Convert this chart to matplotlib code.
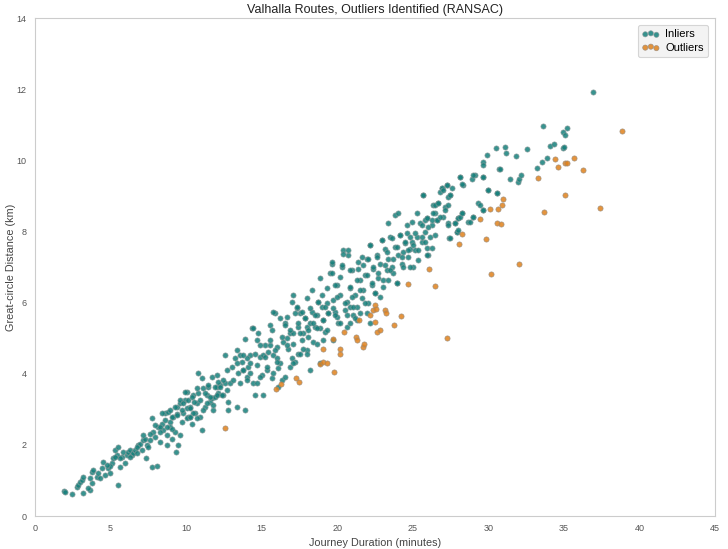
import matplotlib
matplotlib.use("Agg")
import matplotlib.pyplot as plt

# Inlier points (journey minutes, great-circle km)
inlier_x = [
    1.92, 1.99, 2.43, 3.2, 2.76, 2.87, 2.98, 3.09, 3.2, 3.64, 3.53, 3.75, 3.64, 3.75, 3.86, 4.08, 4.19, 4.3,
    4.41, 4.52, 4.63, 4.85, 4.96, 5.07, 5.18, 5.4, 5.51, 5.63, 5.29, 5.51, 5.74, 5.85, 6.07, 6.18, 6.29, 6.4,
    6.51, 6.62, 6.73, 6.84, 6.95, 7.06, 7.17, 7.28, 7.35, 7.39, 7.5, 7.61, 7.72, 7.83, 7.94, 8.05, 8.16, 8.27,
    8.38, 8.49, 8.6, 8.71, 8.76, 8.82, 8.93, 9.04, 9.15, 9.27, 9.33, 9.38, 9.49, 9.6, 9.71, 9.82, 9.93, 10.04,
    10.15, 10.26, 10.37, 10.48, 10.59, 10.7, 10.81, 10.92, 11.03, 11.14, 11.25, 11.36, 11.47, 11.58, 11.69,
    11.8, 11.91, 12.02, 12.13, 12.24, 12.46, 12.57, 12.8, 9.4, 9.6, 10.04, 10.26, 10.7, 8.93, 9.04, 8.27,
    7.61, 7.17, 6.73, 6.29, 5.96, 5.63, 5.29, 4.96, 4.74,
    7.72, 7.94, 8.27, 8.38, 8.6, 8.71, 8.93, 9.05, 9.27, 9.38, 9.6, 9.71, 9.82, 9.93, 10.04, 10.15, 10.26,
    10.37, 10.48, 10.7, 10.81, 10.92, 11.03, 11.14, 11.25, 11.36, 11.47, 11.58, 11.69, 11.8, 11.91, 12.02,
    12.13, 12.24, 12.35, 12.46, 12.57, 12.68, 12.8, 12.91, 13.02, 13.13, 13.24, 13.35, 13.39, 13.46, 13.57,
    13.68, 13.79, 13.9, 14.01, 14.12, 14.23, 14.34, 14.45, 14.56, 14.67, 14.78, 14.89, 15.0, 15.11, 15.22,
    15.33, 15.44, 15.55, 15.66, 15.77, 15.88, 15.99, 16.1, 16.21, 16.32, 16.43, 16.54, 16.66, 16.77, 16.88,
    16.99, 17.1, 17.21, 17.32, 17.43, 17.54, 17.65, 17.76, 17.87, 17.98, 18.09, 18.2, 18.31, 18.42, 18.53,
    18.64, 18.75, 18.86, 18.97, 19.08, 19.19, 19.3, 19.41, 14.67, 15.11, 13.35, 12.68, 12.02, 10.5, 10.26,
    13.57, 14.01, 15.55, 15.99, 16.66, 17.1, 17.98, 17.43,
    13.9, 14.45, 13.79, 14.23, 14.56, 14.89, 15.22, 15.55, 15.77, 15.66, 15.88, 15.99, 16.21, 16.32, 16.55,
    16.66, 16.88, 16.99, 17.1, 17.21, 17.32, 17.43, 17.54, 17.65, 17.76, 17.87, 17.98, 18.09, 18.2, 18.31,
    18.42, 18.53, 18.64, 18.75, 18.86, 18.97, 19.08, 19.19, 19.3, 19.41, 19.52, 19.63, 19.74, 19.85, 19.96,
    20.07, 20.18, 20.3, 20.41, 20.52, 20.63, 20.74, 20.85, 20.96, 21.07, 21.18, 21.29, 21.4, 21.51, 21.62,
    21.73, 21.84, 21.95, 22.06, 22.17, 22.28, 22.39, 22.5, 22.61, 22.72, 22.83, 22.94, 23.05, 23.16, 23.27,
    23.38, 23.49, 23.6, 23.71, 23.83, 23.94, 24.05, 24.16, 24.27, 24.38, 24.49, 24.6, 24.71, 24.82, 24.93,
    25.04, 25.15, 25.26, 25.37, 14.89, 14.01, 14.67, 15.77, 16.55, 16.1, 14.23, 13.79, 15.33, 16.88, 17.98,
    18.64, 19.3, 19.96, 20.63, 21.29, 20.85, 19.74, 19.08, 17.54, 17.1, 18.2, 18.86,
    19.63, 19.63, 19.85, 19.96, 19.74, 19.85, 20.19, 20.3, 20.41, 20.52, 20.74, 20.85, 20.85, 20.96, 21.07,
    21.18, 21.29, 21.4, 21.51, 21.62, 21.73, 21.84, 21.95, 22.06, 22.17, 22.28, 22.39, 22.5, 22.61, 22.72,
    22.94, 23.05, 23.16, 23.27, 23.39, 23.49, 23.61, 23.72, 23.83, 23.94, 24.05, 24.16, 24.27, 24.38, 24.49,
    24.6, 24.71, 24.82, 24.93, 25.04, 25.15, 25.26, 25.37, 25.48, 25.59, 25.7, 25.81, 25.92, 26.03, 26.14,
    26.25, 26.36, 26.47, 26.58, 26.69, 26.8, 26.91, 27.02, 27.13, 27.24, 27.36, 27.42, 27.47, 27.8, 27.91,
    28.02, 28.13, 28.24, 28.3, 28.68, 29.01, 29.12, 29.34, 29.67, 29.67, 30.0, 30.55, 24.82, 23.94, 23.39,
    22.83, 21.95, 22.17, 20.85, 20.19, 21.51, 20.63,
    25.7, 25.59, 25.81, 25.92, 26.03, 25.59, 25.81, 25.92, 26.25, 25.92, 26.47, 26.25, 26.36, 26.47, 26.69,
    26.58, 26.8, 26.91, 27.02, 27.13, 27.24, 27.36, 27.36, 27.47, 27.58, 27.47, 27.36, 27.8, 27.91, 28.02,
    28.02, 28.13, 28.24, 28.24, 28.13, 28.9, 29.01, 28.79, 29.01, 29.45, 29.67, 29.67, 29.67, 29.67, 30.0,
    29.89, 30.55, 30.51, 30.73, 31.11, 31.17, 31.44, 31.83, 31.99, 32.05, 32.14, 32.58, 33.25, 33.53, 33.86,
    33.64, 34.08, 34.35, 34.92, 35.01, 34.97, 35.08, 35.23, 36.95, 30.77,
]
inlier_y = [
    0.71, 0.68, 0.62, 0.64, 0.82, 0.87, 0.97, 1.01, 1.11, 0.73, 0.78, 0.92, 1.06, 1.25, 1.29, 1.11, 1.2, 1.06,
    1.34, 1.53, 1.15, 1.34, 1.2, 1.48, 1.62, 1.71, 0.87, 1.37, 1.86, 1.95, 1.67, 1.81, 1.71, 1.81, 1.86, 1.71,
    1.78, 1.86, 1.76, 2.0, 2.04, 1.86, 2.14, 2.18, 1.62, 2.0, 1.95, 2.14, 1.37, 2.37, 2.23, 1.41, 2.51, 2.09,
    2.6, 2.42, 2.89, 2.28, 2.0, 2.93, 2.65, 2.18, 2.79, 2.37, 1.81, 3.07, 2.0, 2.28, 2.65, 2.89, 3.26, 3.5,
    2.79, 3.07, 2.6, 3.4, 2.89, 3.17, 3.45, 2.79, 2.42, 3.59, 3.07, 3.4, 3.64, 3.21, 3.31,
    2.98, 3.35, 3.64, 3.45, 3.68, 3.4, 3.73, 3.21, 2.88, 3.17, 3.03, 2.79, 2.75, 2.51, 2.44, 2.51,
    2.32, 2.28, 1.95, 1.67, 1.48, 1.62, 1.67, 1.41, 1.43,
    2.75, 2.56, 2.37, 2.89, 2.7, 2.51, 2.98, 2.79, 3.07, 2.84, 3.26, 2.98, 3.17, 3.5, 2.75, 3.26, 3.03,
    3.36, 2.89, 3.59, 4.01, 3.26, 3.87, 2.98, 3.45, 3.17, 3.68, 3.36, 3.92, 3.12, 3.64, 3.4,
    3.78, 3.64, 3.4, 3.82, 4.53, 4.11, 2.98, 3.73, 4.2, 3.82, 4.43, 3.07, 4.67, 4.01, 3.73,
    4.34, 4.11, 2.98, 3.92, 4.2, 4.53, 5.28, 3.73, 3.4, 4.25, 5.14, 4.48, 3.97, 3.4, 4.81,
    4.11, 4.62, 5.37, 3.87, 4.53, 5.7, 4.76, 4.15, 4.29, 3.82, 4.9, 5.42, 5.6, 4.71, 5.14,
    4.43, 4.85, 4.34, 5.84, 5.32, 5.7, 4.95, 5.14, 5.56, 5.32, 5.04, 5.42, 5.75, 4.9, 5.32,
    5.65, 6.03, 5.28, 5.89, 5.51, 5.18, 5.98, 5.7, 4.95, 4.53, 4.29, 3.54, 3.96, 3.2, 2.79,
    4.53, 4.43, 4.81, 4.43, 5.0, 5.14, 4.67, 4.57,
    4.99, 5.28, 4.53, 4.29, 4.57, 4.81, 4.48, 4.95, 5.74, 5.23, 4.67, 4.34, 5.56, 5.04, 5.37,
    4.81, 5.23, 6.03, 6.21, 5.7, 5.88, 5.42, 5.14, 5.74, 4.71, 5.56, 6.12, 5.23, 5.84, 6.35,
    5.42, 5.65, 5.28, 6.03, 6.68, 6.21, 5.51, 5.88, 6.4, 5.7, 6.82, 7.1, 6.07, 5.74, 6.49,
    5.42, 6.21, 7.01, 7.48, 5.79, 6.03, 7.34, 6.4, 6.92, 5.65, 6.21, 5.88, 7.15, 6.63, 6.12,
    6.35, 6.78, 7.24, 5.98, 7.62, 6.49, 6.96, 6.26, 7.34, 6.68, 7.1, 7.76, 6.63, 7.52, 6.92,
    7.24, 7.85, 7.01, 6.82, 7.57, 6.54, 7.34, 7.9, 7.1, 7.43, 7.67, 7.95, 7.29, 7.52, 7.71,
    7.01, 7.48, 7.85, 7.2, 3.92, 3.82, 3.73, 4.01, 3.92, 3.64, 4.01, 4.11, 4.2, 4.2, 4.57,
    4.85, 5.23, 5.6, 5.32, 5.51, 5.88, 4.95, 4.95, 4.57, 4.29, 4.11, 4.29,
    7.15, 6.82, 6.49, 6.17, 5.84, 5.65, 6.73, 7.06, 7.38, 5.98, 7.48, 6.92, 6.45, 6.17, 5.88,
    5.56, 6.63, 6.96, 6.35, 7.29, 7.06, 5.98, 6.78, 7.24, 7.62, 6.54, 7.01, 6.26, 7.29, 6.82,
    7.76, 6.45, 7.06, 7.43, 8.23, 6.92, 7.81, 7.24, 8.46, 7.57, 8.51, 7.9, 7.29, 7.01, 7.71,
    8.18, 7.48, 7.85, 8.28, 7.62, 7.95, 8.51, 7.48, 8.23, 7.71, 9.02, 7.99, 8.37, 7.34, 7.85,
    8.18, 8.74, 8.51, 8.32, 8.79, 9.12, 9.21, 8.41, 8.7, 9.31, 8.23, 7.81, 9.02, 8.23, 7.99,
    8.37, 9.54, 8.51, 9.31, 8.28, 8.41, 9.59, 8.79, 9.54, 8.6, 9.16, 9.07, 7.01, 6.54, 6.63,
    6.17, 5.7, 5.42, 5.42, 5.42, 5.7, 5.65,
    9.03, 8.18, 8.32, 8.37, 8.13, 7.85, 7.71, 7.53, 7.53, 7.34, 7.9, 8.32, 8.51, 8.74, 8.79,
    8.32, 8.42, 9.21, 9.17, 8.6, 9.31, 8.74, 8.98, 9.03, 9.21, 7.81, 8.18, 8.23, 7.99, 8.04,
    8.37, 8.42, 8.51, 9.35, 9.54, 9.49, 9.59, 8.28, 8.42, 8.74, 8.6, 9.96, 9.87, 9.54, 9.17,
    10.15, 9.07, 10.34, 9.75, 10.38, 10.2, 9.49, 10.12, 9.4, 9.49, 9.59, 10.32, 9.79, 9.96, 10.07,
    10.96, 10.41, 10.45, 10.36, 10.38, 10.8, 10.71, 10.9, 11.93, 9.75,
]

# Points flagged as outliers by RANSAC
outlier_x = [
    12.57, 15.93, 16.3, 17.27, 17.5, 18.86, 19.08, 19.3, 19.77, 19.08, 19.74, 20.18, 20.18, 20.45, 21.24,
    21.33, 21.69, 21.77, 21.46, 22.17, 22.35, 22.5, 22.6, 22.5, 22.65, 22.83, 23.16, 23.23, 23.76, 24.22,
    24.71, 26.1, 26.5, 27.25, 28.06, 28.26, 29.43, 29.87, 30.13, 30.64, 30.93, 30.97, 30.6, 30.82, 30.18,
    32.03, 33.69, 33.29, 34.44, 34.63, 35.08, 35.2, 35.67, 35.05, 36.29, 37.39, 38.82,
]
outlier_y = [
    2.47, 3.56, 3.7, 3.87, 3.78, 4.27, 4.34, 4.29, 4.04, 4.69, 4.98, 4.71, 4.57, 5.18, 5.04,
    4.95, 4.76, 4.84, 5.51, 5.65, 5.79, 5.93, 5.82, 5.45, 5.18, 5.23, 5.79, 5.72, 5.37, 5.62,
    6.52, 6.96, 6.46, 5.02, 7.64, 7.93, 8.35, 7.8, 8.62, 8.62, 8.75, 8.92, 8.23, 8.2, 6.8,
    7.08, 8.55, 9.51, 10.03, 9.8, 9.93, 9.93, 10.06, 9.02, 9.73, 8.67, 10.82,
]

plt.rcParams['font.family'] = ['Liberation Sans', 'DejaVu Sans']

fig = plt.figure(figsize=(7.28, 5.49), dpi=100)
ax = fig.add_axes([0.048, 0.060, 0.934, 0.907])

ax.scatter(inlier_x, inlier_y, s=14, color='#15807b', alpha=0.85,
           edgecolors='#8a9a9a', linewidths=0.5, label='Inliers', zorder=3)
ax.scatter(outlier_x, outlier_y, s=14, color='#e0821c', alpha=0.85,
           edgecolors='#9a8a7a', linewidths=0.5, label='Outliers', zorder=3)

ax.set_xlim(0, 45)
ax.set_ylim(0, 14)
ax.set_xticks(range(0, 46, 5))
ax.set_yticks(range(0, 15, 2))
ax.tick_params(length=0, labelsize=6.5, labelcolor='#555555', pad=6)
for sp in ax.spines.values():
    sp.set_color('#cccccc')
    sp.set_linewidth(0.8)

ax.set_title("Valhalla Routes, Outliers Identified (RANSAC)", fontsize=9, color='#222222', pad=4)
ax.set_xlabel("Journey Duration (minutes)", fontsize=7.8, color='#444444', labelpad=3)
ax.set_ylabel("Great-circle Distance (km)", fontsize=7.8, color='#444444')
ax.yaxis.set_label_coords(-0.028, 0.5)

leg = ax.legend(loc='upper right', fontsize=8, frameon=True, facecolor='#f0f0f0',
                edgecolor='#cccccc', borderpad=0.4, labelspacing=0.3, handlelength=1.6,
                handletextpad=0.5, scatterpoints=3, borderaxespad=0.6)
leg.get_frame().set_linewidth(0.8)

fig.savefig("out.png", dpi=100)
